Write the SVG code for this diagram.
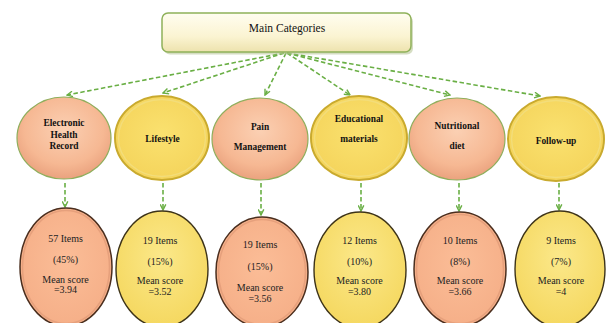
<svg xmlns="http://www.w3.org/2000/svg" width="606" height="323" viewBox="0 0 606 323">
<defs>
<style>
.conn{fill:none;stroke:#6aaf45;stroke-width:1.6;stroke-dasharray:4.5 2.5;marker-end:url(#ah)}
.lbl{font-family:"Liberation Serif","Times New Roman",serif;font-weight:bold;font-size:9.4px;fill:#111;text-anchor:middle}
.val{font-family:"Liberation Serif","Times New Roman",serif;font-size:10px;fill:#222;text-anchor:middle}
.ts{stroke:#8fae5c;stroke-width:1.2;fill:url(#gs)}
.ty{stroke:#c9aa2e;stroke-width:2;fill:url(#gy)}
.tyin{fill:none;stroke:#f3dd7a;stroke-width:1.4}
.bs{stroke:#4a2e1e;stroke-width:1.5;fill:url(#gbs)}
.bsin{fill:none;stroke:#e6a07c;stroke-width:1.5}
.by{stroke:#3d3318;stroke-width:1.4;fill:url(#gby)}
</style>
<radialGradient id="gs" cx="50%" cy="40%" r="60%">
<stop offset="0" stop-color="#fbd0b3"/>
<stop offset="0.7" stop-color="#f6b893"/>
<stop offset="1" stop-color="#eaa27e"/>
</radialGradient>
<radialGradient id="gy" cx="50%" cy="45%" r="60%">
<stop offset="0" stop-color="#fae16f"/>
<stop offset="1" stop-color="#f4d35a"/>
</radialGradient>
<radialGradient id="gbs" cx="50%" cy="45%" r="60%">
<stop offset="0" stop-color="#fbbd97"/>
<stop offset="1" stop-color="#f5ae87"/>
</radialGradient>
<radialGradient id="gby" cx="50%" cy="40%" r="60%">
<stop offset="0" stop-color="#fbe88a"/>
<stop offset="1" stop-color="#f5d860"/>
</radialGradient>
<linearGradient id="gm" x1="0" y1="0" x2="0" y2="1">
<stop offset="0" stop-color="#fffdf0"/>
<stop offset="0.6" stop-color="#fbf4d2"/>
<stop offset="1" stop-color="#ede2ad"/>
</linearGradient>
<marker id="ah" viewBox="0 0 10 10" refX="9" refY="5" markerWidth="7" markerHeight="7" markerUnits="userSpaceOnUse" orient="auto">
<path d="M1,1 L9,5 L1,9" fill="none" stroke="#6aaf45" stroke-width="2"/>
</marker>
</defs>
<rect width="606" height="323" fill="#ffffff"/>

<g id="connectors">
<path class="conn" d="M284,53 L67,95"/>
<path class="conn" d="M284,53 L163,93"/>
<path class="conn" d="M286,53 L265,95"/>
<path class="conn" d="M287,53 L350,95"/>
<path class="conn" d="M287,53 L450,95"/>
<path class="conn" d="M287,53 L540,96"/>
<path class="conn" d="M65,183 L65,207"/>
<path class="conn" d="M163,183 L163,210"/>
<path class="conn" d="M261,183 L261,215"/>
<path class="conn" d="M361,183 L361,211"/>
<path class="conn" d="M459,183 L459,211"/>
<path class="conn" d="M559,183 L559,210"/>
</g>

<g id="main">
<rect x="163" y="14" width="249" height="39" rx="6" fill="#b9c79a" opacity="0.6" transform="translate(1,1.5)"/>
<rect x="162" y="13" width="249" height="39" rx="6" fill="url(#gm)" stroke="#8fb15a" stroke-width="1.5"/>
<text x="287" y="32" font-family="'Liberation Serif','Times New Roman',serif" font-size="11.5" fill="#111" text-anchor="middle">Main Categories</text>
</g>

<g id="cat-ehr">
<ellipse class="ts" cx="64" cy="138" rx="47" ry="41"/>
<text class="lbl" x="64" y="126">Electronic</text>
<text class="lbl" x="64" y="137.5">Health</text>
<text class="lbl" x="64" y="149">Record</text>
</g>
<g id="cat-lifestyle">
<ellipse class="ty" cx="162" cy="138" rx="47" ry="42"/>
<ellipse class="tyin" cx="162" cy="138" rx="43.5" ry="38.5"/>
<text class="lbl" x="162.5" y="142">Lifestyle</text>
</g>
<g id="cat-pain">
<ellipse class="ts" cx="260" cy="139" rx="48" ry="41"/>
<text class="lbl" x="260" y="130">Pain</text>
<text class="lbl" x="260" y="150">Management</text>
</g>
<g id="cat-edu">
<ellipse class="ty" cx="359" cy="138" rx="48" ry="42"/>
<ellipse class="tyin" cx="359" cy="138" rx="44.5" ry="38.5"/>
<text class="lbl" x="359" y="122">Educational</text>
<text class="lbl" x="359" y="142">materials</text>
</g>
<g id="cat-nutrition">
<ellipse class="ts" cx="457" cy="139" rx="48" ry="41"/>
<text class="lbl" x="457" y="129">Nutritional</text>
<text class="lbl" x="457" y="149">diet</text>
</g>
<g id="cat-followup">
<ellipse class="ty" cx="556" cy="139" rx="48" ry="42"/>
<ellipse class="tyin" cx="556" cy="139" rx="44.5" ry="38.5"/>
<text class="lbl" x="556" y="144">Follow-up</text>
</g>

<g id="res-ehr">
<ellipse class="bs" cx="66" cy="267" rx="46" ry="59"/>
<ellipse class="bsin" cx="66" cy="267" rx="43.5" ry="56.5"/>
<text class="val" x="65.5" y="241.5">57 Items</text>
<text class="val" x="65.5" y="262.5">(45%)</text>
<text class="val" x="65.5" y="282.5">Mean score</text>
<text class="val" x="65.5" y="293">=3.94</text>
</g>
<g id="res-lifestyle">
<ellipse class="by" cx="162" cy="269" rx="46" ry="58"/>
<text class="val" x="160" y="243.5">19 Items</text>
<text class="val" x="160" y="264.5">(15%)</text>
<text class="val" x="160" y="283.5">Mean score</text>
<text class="val" x="160" y="295">=3.52</text>
</g>
<g id="res-pain">
<ellipse class="bs" cx="262" cy="272" rx="46" ry="55"/>
<ellipse class="bsin" cx="262" cy="272" rx="43.5" ry="52.5"/>
<text class="val" x="260" y="247.5">19 Items</text>
<text class="val" x="260" y="269.5">(15%)</text>
<text class="val" x="260" y="290.5">Mean score</text>
<text class="val" x="260" y="301.5">=3.56</text>
</g>
<g id="res-edu">
<ellipse class="by" cx="360" cy="270" rx="46" ry="58"/>
<text class="val" x="359.5" y="243.5">12 Items</text>
<text class="val" x="359.5" y="264.5">(10%)</text>
<text class="val" x="359.5" y="283.5">Mean score</text>
<text class="val" x="359.5" y="295">=3.80</text>
</g>
<g id="res-nutrition">
<ellipse class="bs" cx="460" cy="269" rx="46" ry="57"/>
<ellipse class="bsin" cx="460" cy="269" rx="43.5" ry="54.5"/>
<text class="val" x="460" y="243.5">10 Items</text>
<text class="val" x="460" y="264.5">(8%)</text>
<text class="val" x="460" y="283.5">Mean score</text>
<text class="val" x="460" y="295">=3.66</text>
</g>
<g id="res-followup">
<ellipse class="by" cx="560" cy="269" rx="45" ry="58"/>
<text class="val" x="561" y="243.5">9 Items</text>
<text class="val" x="561" y="264.5">(7%)</text>
<text class="val" x="561" y="283.5">Mean score</text>
<text class="val" x="561" y="295">=4</text>
</g>
</svg>
